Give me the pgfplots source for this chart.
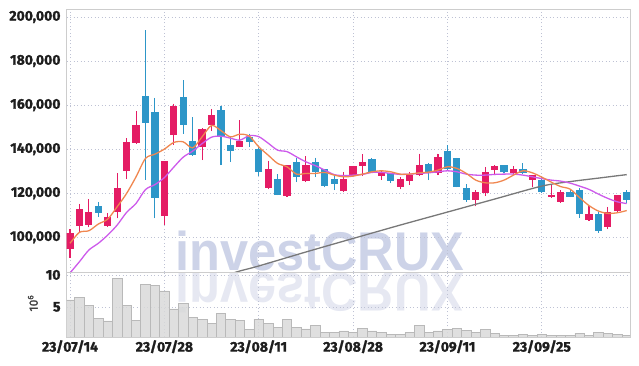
\documentclass[border=0pt]{standalone}
\usepackage{pgfplots}
\pgfplotsset{compat=1.18}
\usepgfplotslibrary{statistics}
\usepackage{fontspec}
\setmainfont{Fira Sans}[FakeBold=1.6]
\newfontfamily\wmfont{Liberation Sans}

\definecolor{cR}{RGB}{228,28,100}
\definecolor{cB}{RGB}{45,150,200}
\definecolor{cO}{RGB}{240,135,80}
\definecolor{cM}{RGB}{205,90,235}
\definecolor{cG}{RGB}{120,120,120}
\definecolor{gridc}{RGB}{190,194,212}
\definecolor{framec}{RGB}{205,205,205}
\definecolor{wmA}{RGB}{205,211,232}
\definecolor{wmB}{RGB}{230,232,242}
\definecolor{labc}{RGB}{30,30,30}
\definecolor{volf}{RGB}{217,217,217}
\definecolor{vold}{RGB}{185,185,185}

\pgfplotsset{
  up/.style={draw=cR, fill=cR, line width=1.1pt, solid},
  dn/.style={draw=cB, fill=cB, line width=1.1pt, solid},
  boxplot/draw direction=y,
  boxplot/box extend=0.65,
  boxplot/whisker extend=0,
}
% prices in thousands of won
\newcommand{\cdl}[6]{\addplot[#6, boxplot prepared={draw position=#1, lower whisker=#2, lower quartile=#3, median=#3, upper quartile=#4, upper whisker=#5}] coordinates {};}

\begin{document}
\begin{tikzpicture}
\path[use as bounding box] (0,0) rectangle (639pt,366pt);
\begin{scope}[shift={(175pt,95pt)}, yscale=1.08, color=wmA]
\node[transform shape, anchor=base west, inner sep=0pt, font=\wmfont\bfseries\fontsize{50.5}{50}\selectfont, color=wmA] at (0,0) {\color{wmA}investCRUX};
\end{scope}
\begin{scope}[shift={(175pt,92.5pt)}, yscale=-1.08, color=wmB]
\node[transform shape, anchor=base west, inner sep=0pt, font=\wmfont\bfseries\fontsize{50.5}{50}\selectfont, color=wmB] at (0,0) {\color{wmB}investCRUX};
\end{scope}
\begin{axis}[
  at={(66.7pt,94pt)}, anchor=south west,
  scale only axis, width=563.3pt, height=262.7pt,
  xmin=-0.35, xmax=59.35, ymin=84.22, ymax=203.5,
  xtick={0,10,20,30,40,50}, xticklabels={},
  ytick={100,120,140,160,180,200},
  yticklabels={{100,000},{120,000},{140,000},{160,000},{180,000},{200,000}},
  tick style={draw=none},
  yticklabel style={font=\bfseries\fontsize{14}{14}\selectfont, text=labc, inner sep=0pt, xshift=-6pt},
  xmajorgrids, ymajorgrids,
  grid style={gridc, line width=0.7pt, dash pattern=on 1pt off 2.5pt},
  axis line style={framec, line width=0.9pt},
]
\cdl{0}{90.7}{95.0}{101.45}{103.7}{up}
\cdl{1}{102.5}{105.2}{112.8}{115.2}{up}
\cdl{2}{104.5}{106.0}{111.3}{117.2}{up}
\cdl{3}{109.3}{111.1}{114.15}{116.1}{dn}
\cdl{4}{104.8}{105.5}{108.85}{110.8}{up}
\cdl{5}{108.6}{111.55}{122.3}{129.0}{up}
\cdl{6}{126.4}{130.2}{143.2}{144.85}{up}
\cdl{7}{142.8}{143.0}{150.9}{157.3}{up}
\cdl{8}{126.0}{152.1}{163.7}{194.0}{dn}
\cdl{9}{108.6}{118.1}{156.65}{163.3}{dn}
\cdl{10}{105.5}{109.75}{134.24}{134.5}{up}
\cdl{11}{142.0}{146.7}{159.2}{160.7}{up}
\cdl{12}{147.0}{151.3}{163.3}{171.3}{dn}
\cdl{13}{137.0}{137.6}{143.6}{154.4}{dn}
\cdl{14}{135.0}{141.0}{149.0}{149.5}{up}
\cdl{15}{148.2}{151.3}{155.4}{158.1}{up}
\cdl{16}{132.8}{145.9}{157.7}{159.6}{dn}
\cdl{17}{134.1}{139.5}{141.8}{145.6}{dn}
\cdl{18}{140.9}{141.4}{143.3}{153.2}{up}
\cdl{19}{141.0}{143.3}{145.2}{147.1}{dn}
\cdl{20}{127.9}{129.7}{139.9}{141.0}{dn}
\cdl{21}{121.7}{122.6}{130.9}{134.8}{up}
\cdl{22}{119.1}{119.6}{126.4}{128.7}{dn}
\cdl{23}{118.4}{118.8}{132.7}{132.8}{up}
\cdl{24}{125.0}{127.4}{134.0}{136.1}{dn}
\cdl{25}{125.0}{125.6}{132.7}{136.8}{up}
\cdl{26}{127.3}{129.8}{134.1}{136.2}{dn}
\cdl{27}{122.6}{123.7}{130.9}{131.0}{dn}
\cdl{28}{121.4}{124.4}{126.4}{128.1}{dn}
\cdl{29}{120.4}{121.4}{126.4}{129.7}{up}
\cdl{30}{128.0}{128.7}{132.0}{132.5}{up}
\cdl{31}{127.8}{132.4}{133.8}{137.7}{up}
\cdl{32}{129.3}{129.7}{135.5}{136.0}{dn}
\cdl{33}{125.9}{128.2}{129.0}{130.5}{up}
\cdl{34}{124.6}{125.6}{128.7}{128.9}{dn}
\cdl{35}{121.7}{122.9}{126.4}{127.4}{up}
\cdl{36}{123.7}{125.6}{127.8}{129.7}{up}
\cdl{37}{127.8}{128.7}{132.7}{138.0}{up}
\cdl{38}{125.9}{129.7}{133.2}{133.8}{dn}
\cdl{39}{128.2}{129.3}{136.2}{138.0}{up}
\cdl{40}{130.3}{131.3}{138.8}{141.8}{dn}
\cdl{41}{122.6}{123.2}{135.8}{136.0}{dn}
\cdl{42}{116.1}{117.1}{122.2}{124.1}{dn}
\cdl{43}{114.0}{117.1}{120.4}{121.4}{up}
\cdl{44}{118.7}{120.4}{129.6}{132.0}{up}
\cdl{45}{128.1}{130.8}{132.0}{132.7}{up}
\cdl{46}{129.0}{129.7}{132.4}{132.7}{dn}
\cdl{47}{128.4}{129.2}{130.9}{132.3}{up}
\cdl{48}{128.7}{129.3}{130.9}{133.6}{dn}
\cdl{49}{122.6}{126.2}{127.8}{128.2}{up}
\cdl{50}{120.0}{120.6}{125.9}{127.3}{dn}
\cdl{51}{118.1}{118.4}{118.8}{124.1}{up}
\cdl{52}{115.7}{116.1}{120.5}{121.4}{up}
\cdl{53}{118.2}{118.7}{120.4}{121.4}{dn}
\cdl{54}{108.8}{110.7}{121.1}{122.2}{dn}
\cdl{55}{107.8}{108.0}{110.1}{114.4}{up}
\cdl{56}{102.0}{102.9}{110.1}{111.6}{dn}
\cdl{57}{103.6}{104.8}{111.0}{113.8}{up}
\cdl{58}{111.6}{112.0}{118.8}{119.1}{up}
\cdl{59}{115.7}{117.1}{120.4}{121.4}{dn}
% long moving average (grey)
\addplot[cG, line width=1.3pt, smooth, mark=none] coordinates {
(17,83.3) (18,84.68) (20,86.95) (25,93.3) (30,99.44) (35,105.53) (40,111.43)
(45,117.33) (50,123.22) (53,125.26) (56,126.85) (59,128.44)};
% magenta moving average
\addplot[cM, line width=1.3pt, smooth, mark=none] coordinates {
(0,83.77) (1,88.89) (2,94.2) (3,97.24) (4,101.0) (5,105.54) (6,111.3) (7,115.38)
(8,121.64) (9,123.9) (10,127.08) (11,131.84) (12,136.37) (13,139.1) (14,142.5)
(15,145.44) (16,145.9) (17,144.99) (18,144.08) (19,146.12) (20,145.67) (21,142.72)
(22,139.55) (23,138.87) (24,136.51) (25,134.24) (26,132.52) (27,130.48) (28,128.44)
(29,127.98) (30,128.21) (31,128.53) (32,129.44) (33,129.44) (34,128.98) (35,128.53)
(36,128.66) (37,128.98) (38,129.25) (39,129.71) (40,130.16) (41,129.71) (42,128.66)
(43,128.21) (44,128.21) (45,128.53) (46,128.66) (47,128.66) (48,128.21) (49,127.44)
(50,126.62) (51,125.94) (52,125.49) (53,124.58) (54,123.22) (55,121.73) (56,119.59)
(57,117.64) (58,116.1) (59,115.29)};
% orange moving average
\addplot[cO, line width=1.3pt, smooth, mark=none] coordinates {
(0,97.24) (1,102.23) (2,102.95) (3,105.99) (4,108.26) (5,113.84) (6,119.91) (7,127.44)
(8,135.78) (9,137.73) (10,140.0) (11,143.04) (12,143.31) (13,140.59) (14,145.58)
(15,150.75) (16,148.39) (17,145.58) (18,146.8) (19,145.9) (20,141.05) (21,137.28)
(22,133.52) (23,131.98) (24,128.66) (25,128.98) (26,128.98) (27,129.44) (28,128.21)
(29,127.44) (30,127.76) (31,128.66) (32,129.71) (33,130.16) (34,129.71) (35,128.66)
(36,128.66) (37,129.25) (38,129.57) (39,130.48) (40,131.98) (41,131.25) (42,128.98)
(43,125.94) (44,124.72) (45,124.72) (46,125.94) (47,128.21) (48,130.16) (49,129.25)
(50,127.3) (51,125.04) (52,123.0) (53,121.86) (54,118.01) (55,114.38) (56,111.89)
(57,110.84) (58,111.11) (59,112.11)};
\end{axis}

\begin{axis}[
  at={(66.7pt,29pt)}, anchor=south west,
  scale only axis, width=563.3pt, height=65pt,
  xmin=-0.35, xmax=59.35, ymin=0.3, ymax=10.45,
  xtick={0,10,20,30,40,50},
  xticklabels={23/07/14,23/07/28,23/08/11,23/08/28,23/09/11,23/09/25},
  ytick={5,10},
  /pgf/number format/assume math mode=true,
  tick style={draw=none},
  yticklabel style={font=\bfseries\fontsize{14}{14}\selectfont, text=labc, inner sep=0pt, xshift=-6pt},
  xticklabel style={font=\bfseries\fontsize{14}{14}\selectfont, text=labc, inner sep=0pt, yshift=-3pt},
  xmajorgrids, ymajorgrids,
  grid style={gridc, line width=0.7pt, dash pattern=on 1pt off 2.5pt},
  axis line style={framec, line width=0.9pt},
  ylabel={10\textsuperscript{6}},
  every axis y label/.style={at={(axis description cs:-0.06,0.52)}, rotate=90, anchor=center, font=\fontsize{12}{12}\selectfont, text=black!75},
]
\addplot[ybar, bar width=1, fill=volf, draw=vold, line width=0.6pt, fill opacity=0.85] coordinates {
(0,6.1) (1,6.5) (2,5.25) (3,3.2) (4,2.8) (5,9.5) (6,5.25) (7,2.95) (8,8.5) (9,8.3)
(10,7.5) (11,4.7) (12,5.6) (13,3.4) (14,3.0) (15,2.45) (16,4.0) (17,3.1) (18,2.95) (19,1.5)
(20,3.1) (21,2.45) (22,1.8) (23,3.1) (24,1.8) (25,1.55) (26,2.15) (27,1.05) (28,1.05) (29,1.25)
(30,1.0) (31,1.7) (32,1.25) (33,1.0) (34,0.75) (35,0.75) (36,1.0) (37,2.1) (38,1.0) (39,1.25)
(40,1.45) (41,1.65) (42,1.35) (43,1.0) (44,1.5) (45,0.85) (46,0.55) (47,0.55) (48,0.75) (49,0.55)
(50,0.75) (51,0.5) (52,0.5) (53,0.5) (54,0.9) (55,0.5) (56,1.05) (57,0.9) (58,0.75) (59,0.5)};
\end{axis}
\end{tikzpicture}
\end{document}
